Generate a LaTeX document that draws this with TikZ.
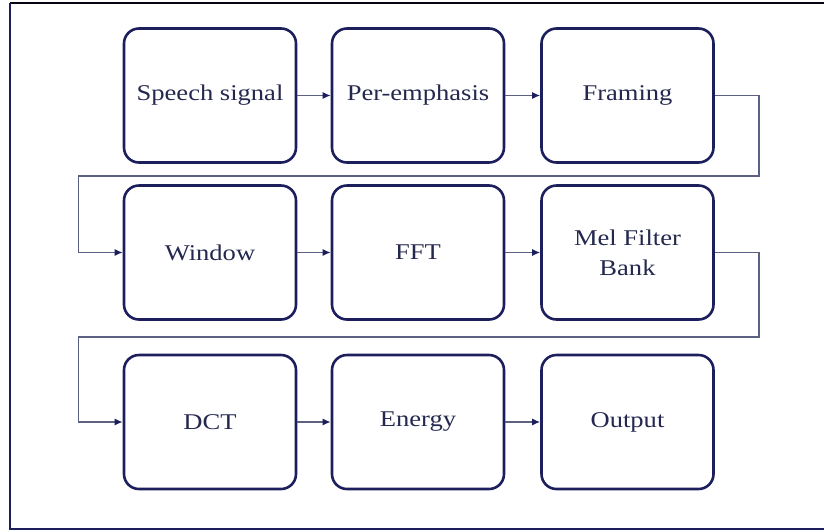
\documentclass[tikz,border=0pt]{standalone}
\usepackage{fontspec}
\setmainfont{Liberation Serif}
\usetikzlibrary{arrows.meta}
\definecolor{boxline}{HTML}{1C1F5C}
\definecolor{wire}{HTML}{5C6184}
\definecolor{ink}{HTML}{24284E}
\newcommand{\widetext}[1]{\scalebox{1.18}[1]{#1}}
\tikzset{
  x=1pt, y=1pt,
  stagebox/.style={draw=boxline, line width=2.6pt, rounded corners=15pt,
    minimum width=172pt, minimum height=134pt, align=center,
    text=ink, font=\fontsize{22.5}{30}\selectfont, inner sep=0pt},
  flow/.style={draw=wire, line width=1.4pt,
    -{Latex[length=8pt,width=7pt,fill=boxline,color=boxline]}},
}
\begin{document}
\begin{tikzpicture}
\useasboundingbox (0,0) rectangle (824,-531);
% outer frame, its right side runs past the page edge
\draw[line width=2pt, draw=black!85!boxline] (10,-2.5) -- (830,-2.5);
\draw[line width=2pt, draw=boxline] (10,-2.5) -- (10,-529) -- (830,-529);

% processing stages
\node[stagebox] (speech) at (210,-95.5)  {\widetext{Speech signal}};
\node[stagebox] (pre)    at (418,-95.5)  {\widetext{Per-emphasis}};
\node[stagebox] (frame)  at (627.5,-95.5) {\widetext{Framing}};
\node[stagebox] (win)    at (210,-252.5) {\widetext{Window}};
\node[stagebox] (fft)    at (418,-252.5) {\widetext{FFT}};
\node[stagebox] (mel)    at (627.5,-252.5) {\widetext{Mel Filter}\\\widetext{Bank}};
\node[stagebox] (dct)    at (210,-422)   {\widetext{DCT}};
\node[stagebox] (energy) at (418,-422)   {\widetext{Energy}};
\node[stagebox] (out)    at (627.5,-422) {\widetext{Output}};

% turning points of the wrap-around connectors
\coordinate (r1) at (759,-95.5);
\coordinate (r2) at (759,-176);
\coordinate (l1) at (78.5,-176);
\coordinate (l2) at (78.5,-252.5);
\coordinate (r3) at (759,-252.5);
\coordinate (r4) at (759,-337);
\coordinate (l3) at (78.5,-337);
\coordinate (l4) at (78.5,-422);

\draw[flow] (speech) -- (pre);
\draw[flow] (pre) -- (frame);
\draw[flow] (frame.east) -- (r1) -- (r2) -- (l1) -- (l2) -- (win.west);
\draw[flow] (win) -- (fft);
\draw[flow] (fft) -- (mel);
\draw[flow] (mel.east) -- (r3) -- (r4) -- (l3) -- (l4) -- (dct.west);
\draw[flow] (dct) -- (energy);
\draw[flow] (energy) -- (out);
\end{tikzpicture}
\end{document}
